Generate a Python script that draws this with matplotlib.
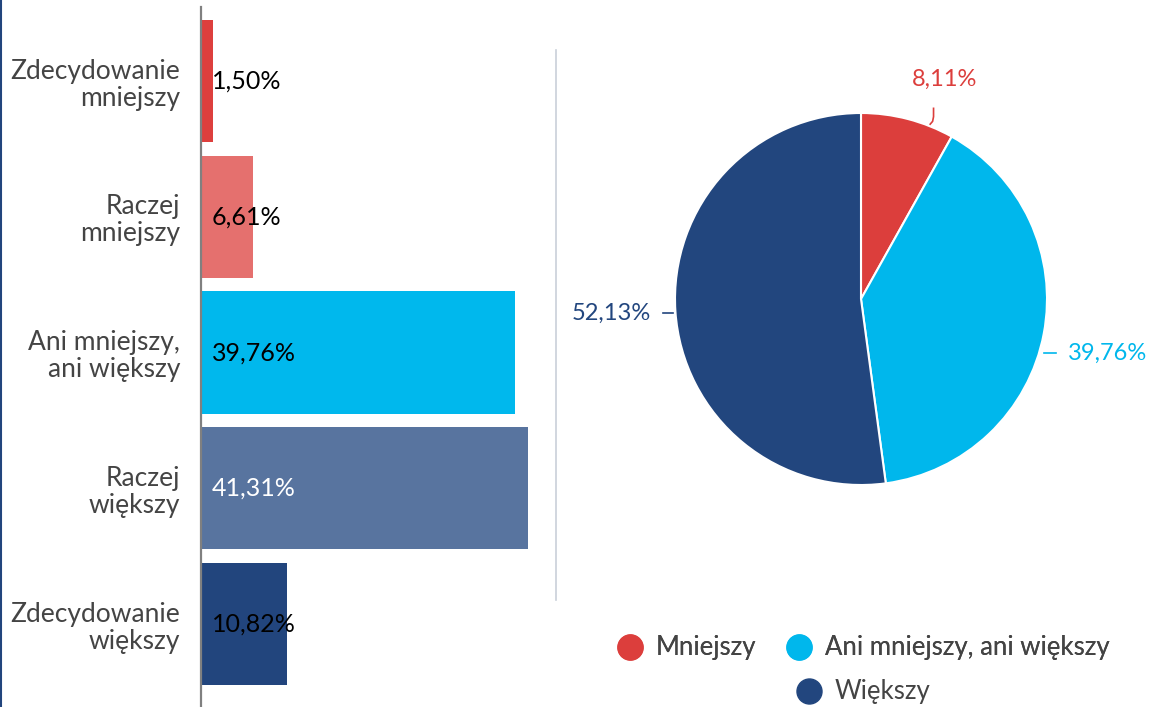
import matplotlib
matplotlib.use('Agg')
import matplotlib.pyplot as plt
from matplotlib.lines import Line2D

plt.rcParams['font.family'] = ['Lato', 'DejaVu Sans']

# dane - wykres słupkowy
kategorie = ['Zdecydowanie\nmniejszy', 'Raczej\nmniejszy', 'Ani mniejszy,\nani większy',
             'Raczej\nwiększy', 'Zdecydowanie\nwiększy']
wartosci = [1.50, 6.61, 39.76, 41.31, 10.82]
kolory_slupkow = ['#dd3f3d', '#e5706e', '#00b8ed', '#58749f', '#22457d']
kolory_etykiet = ['black', 'black', 'black', 'white', 'black']

# dane - wykres kołowy
grupy = ['Mniejszy', 'Ani mniejszy, ani większy', 'Większy']
udzialy = [8.11, 39.76, 52.13]
kolory_kola = ['#dc3e3c', '#00b7ec', '#22467e']

W, H = 1151, 707
fig = plt.figure(figsize=(W / 100, H / 100), dpi=100)

tekst = '#444444'
fs = 18

# --- słupki ---
ax = fig.add_axes([201 / W, 0, 340 / W, 700 / H])
y = list(range(len(wartosci)))
ax.barh(y, wartosci, height=0.9, color=kolory_slupkow)
ax.set_xlim(0, 43)
ax.set_ylim(4 + 0.61, -0.545)
ax.set_yticks(y)
ax.set_yticklabels(kategorie, fontsize=19, color=tekst, linespacing=1.1)
ax.tick_params(axis='y', length=0, pad=15)
ax.set_xticks([])
for s in ['top', 'right', 'bottom']:
    ax.spines[s].set_visible(False)
ax.spines['left'].set_color('#808080')
ax.spines['left'].set_linewidth(1.6)
for yi, v, c in zip(y, wartosci, kolory_etykiet):
    ax.annotate(f'{v:.2f}%'.replace('.', ','), (0, yi), xytext=(8, 0),
                textcoords='offset points', va='center', ha='left',
                fontsize=fs, color=c)

# linia oddzielająca
fig.add_artist(Line2D([556 / W, 556 / W], [1 - 50 / H, 1 - 600 / H],
                      color='#c9d0d9', lw=1.2))
# krawędź po lewej
fig.add_artist(Line2D([0.6 / W, 0.6 / W], [0, 1], color='#22457d', lw=1.5))

# --- koło ---
r = 186
lim = 1.6
side = 2 * lim * r
axp = fig.add_axes([(861 - side / 2) / W, (H - 299 - side / 2) / H, side / W, side / H])
axp.pie(udzialy, colors=kolory_kola, startangle=90, counterclock=False,
        wedgeprops=dict(edgecolor='white', linewidth=1.5))
axp.set_xlim(-lim, lim)
axp.set_ylim(-lim, lim)
axp.set_aspect('equal')
axp.axis('off')

# etykiety wartości przy kole
fmt = lambda v: f'{v:.2f}%'.replace('.', ',')
fp = 17
axp.text(0.45, 1.18, fmt(udzialy[0]), color=kolory_kola[0], fontsize=fp,
         ha='center', va='center')
axp.plot([0.372, 0.385, 0.39, 0.39], [0.94, 0.955, 0.98, 1.025], color=kolory_kola[0], lw=1.2)
axp.text(1.113, -0.29, fmt(udzialy[1]), color=kolory_kola[1], fontsize=fp,
         ha='left', va='center')
axp.plot([0.984, 1.049], [-0.29, -0.29], color=kolory_kola[1], lw=1.2)
axp.text(-1.129, -0.075, fmt(udzialy[2]), color=kolory_kola[2], fontsize=fp,
         ha='right', va='center')
axp.plot([-1.064, -1.011], [-0.075, -0.075], color=kolory_kola[2], lw=1.2)

# legenda
uchwyty = [Line2D([], [], marker='o', ls='', markersize=18, color=c) for c in kolory_kola]
leg1 = fig.legend(uchwyty[:2], grupy[:2], ncol=2, loc='center', bbox_to_anchor=(862 / W, 1 - 648 / H),
                  frameon=False, handletextpad=0.4, columnspacing=1.1, handlelength=1.2,
                  prop=dict(size=18.5), labelcolor=tekst)
fig.add_artist(leg1)
fig.legend(uchwyty[2:], grupy[2:], loc='center', bbox_to_anchor=(862 / W, 1 - 692 / H),
           frameon=False, handletextpad=0.4, handlelength=1.2,
           prop=dict(size=18.5), labelcolor=tekst)

fig.savefig('out.png', dpi=100)
